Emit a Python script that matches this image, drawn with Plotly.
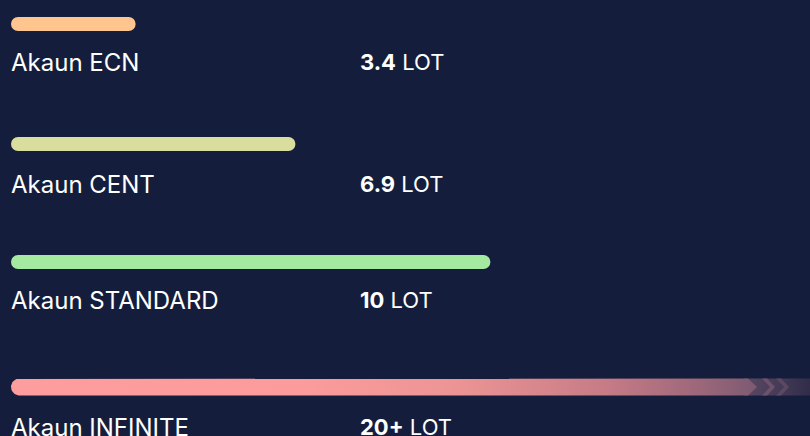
import plotly.graph_objects as go
import numpy as np

# ---- data ----
accounts = ["Akaun ECN", "Akaun CENT", "Akaun STANDARD", "Akaun INFINITE"]
lot_values = ["3.4", "6.9", "10", "20+"]
lot_unit = "LOT"
fill_pct = [15.6, 35.6, 60.0, 100.0]          # bar fill, % of track
bar_colors = ["#fec68e", "#d9dd9d", "#a4eaa0", "#fd9d9d"]

# ---- layout constants (px-like units) ----
W, H = 810, 436
X0 = 11
TRACK = W - X0
bar_y = [24, 144, 262, 387]
label_y = [62, 184, 300, 427]
bar_th = [14, 14, 14, 17]
value_x = 347
BG = "#141e3c"
FONT = "Inter"

fig = go.Figure()

def px(p):
    return p / 100.0 * TRACK

# normal bars
for i in range(3):
    fig.add_trace(go.Bar(
        x=[px(fill_pct[i])], y=[bar_y[i]], base=[0], orientation="h",
        width=[bar_th[i]], marker=dict(color=bar_colors[i], cornerradius="50%",
                                       line=dict(width=0)),
        hoverinfo="skip", showlegend=False))

# gradient bar (last)
i = 3
yc, r = bar_y[i], bar_th[i] / 2
xe = px(fill_pct[i])
tip_base, tip = xe - 62, xe - 53
th = np.linspace(np.pi / 2, 3 * np.pi / 2, 30)
arc_x = r + r * np.cos(th)
arc_y = yc - r * np.sin(th)
# tail (dark fade)
fig.add_trace(go.Scatter(
    x=[tip_base - 4, xe, xe, tip_base - 4, tip_base - 4],
    y=[yc - r, yc - r, yc + r, yc + r, yc - r],
    mode="lines", line=dict(width=0), fill="toself",
    fillgradient=dict(type="horizontal",
                      colorscale=[[0, "#5c4864"], [0.5, "#463c58"], [1, "#302c49"]]),
    hoverinfo="skip", showlegend=False))
# chevrons
for k, (cx, col) in enumerate([(tip_base + 14, "#6e526b"), (tip_base + 28, "#5b4963")]):
    w, d = 5, 8
    fig.add_trace(go.Scatter(
        x=[cx, cx + w, cx + w + d, cx + w, cx, cx + d, cx],
        y=[yc - r, yc - r, yc, yc + r, yc + r, yc, yc - r],
        mode="lines", line=dict(width=0), fill="toself", fillcolor=col,
        hoverinfo="skip", showlegend=False))
# main gradient with chevron tip
mx = [tip_base] + list(arc_x) + [tip_base, tip, tip_base]
my = [yc - r] + list(arc_y) + [yc + r, yc, yc - r]
fig.add_trace(go.Scatter(
    x=mx, y=my, mode="lines", line=dict(width=0), fill="toself",
    fillgradient=dict(type="horizontal",
                      colorscale=[[0, "#fd9d9d"], [0.4, "#fb9b9b"], [0.6, "#ec9494"],
                                  [0.8, "#c67b86"], [0.93, "#9a6679"], [1, "#7b5a72"]]),
    hoverinfo="skip", showlegend=False))

# labels
for i in range(4):
    fig.add_annotation(x=-2, y=label_y[i], xref="x", yref="y", text=accounts[i],
                       xanchor="left", yanchor="middle", showarrow=False,
                       font=dict(family=FONT, size=24, color="white"))
    fig.add_annotation(x=value_x, y=label_y[i], xref="x", yref="y",
                       text=f"<b>{lot_values[i]}</b> {lot_unit}",
                       xanchor="left", yanchor="middle", showarrow=False,
                       font=dict(family=FONT, size=22, color="white"))

fig.update_layout(
    width=W, height=H, margin=dict(l=0, r=0, t=0, b=0),
    paper_bgcolor=BG, plot_bgcolor=BG, barmode="overlay",
    xaxis=dict(range=[-X0, TRACK], visible=False, fixedrange=True),
    yaxis=dict(range=[H, 0], visible=False, fixedrange=True),
    showlegend=False,
)
fig.write_html("out.html")
